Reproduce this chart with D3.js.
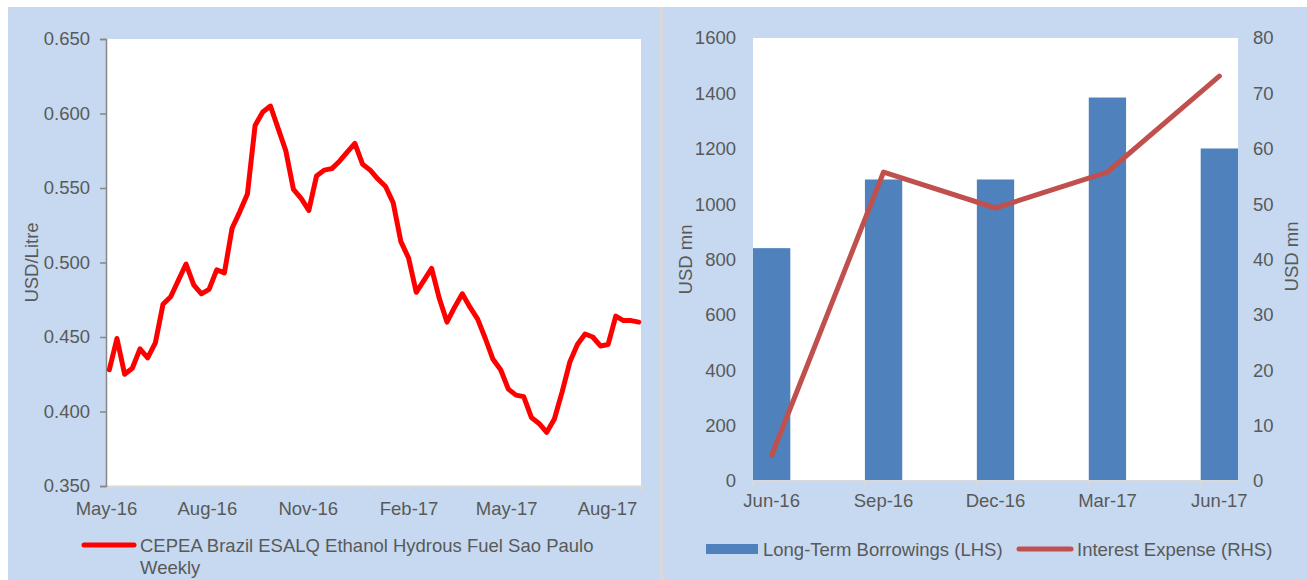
<!DOCTYPE html>
<html>
<head>
<meta charset="utf-8">
<script src="https://cdn.jsdelivr.net/npm/d3@7"></script>
<style>
  html, body { margin: 0; padding: 0; background: #fff; }
  svg { display: block; font-family: "Liberation Sans", Arial, sans-serif; }
  text { font-size: 18.5px; fill: #595959; }
</style>
</head>
<body>
<svg id="chart"></svg>
<script>
// Left chart: weekly ethanol price (USD/Litre)
const weekDates = [
  "2016-05-04","2016-05-11","2016-05-18","2016-05-25",
  "2016-06-01","2016-06-08","2016-06-15","2016-06-22","2016-06-29",
  "2016-07-06","2016-07-13","2016-07-20","2016-07-27",
  "2016-08-03","2016-08-10","2016-08-17","2016-08-24","2016-08-31",
  "2016-09-07","2016-09-14","2016-09-21","2016-09-28",
  "2016-10-05","2016-10-12","2016-10-19","2016-10-26",
  "2016-11-02","2016-11-09","2016-11-16","2016-11-23","2016-11-30",
  "2016-12-07","2016-12-14","2016-12-21","2016-12-28",
  "2017-01-04","2017-01-11","2017-01-18","2017-01-25",
  "2017-02-01","2017-02-08","2017-02-15","2017-02-22",
  "2017-03-01","2017-03-08","2017-03-15","2017-03-22","2017-03-29",
  "2017-04-05","2017-04-12","2017-04-19","2017-04-26",
  "2017-05-03","2017-05-10","2017-05-17","2017-05-24","2017-05-31",
  "2017-06-07","2017-06-14","2017-06-21","2017-06-28",
  "2017-07-05","2017-07-12","2017-07-19","2017-07-26",
  "2017-08-02","2017-08-09","2017-08-16","2017-08-23","2017-08-30"
];
const ethanolPrice = [
  0.428, 0.449, 0.425, 0.429,
  0.442, 0.436, 0.446, 0.472, 0.477,
  0.488, 0.499, 0.485, 0.479,
  0.482, 0.495, 0.493, 0.523, 0.534,
  0.546, 0.592, 0.601, 0.605,
  0.590, 0.575, 0.549, 0.543,
  0.535, 0.558, 0.562, 0.563, 0.568,
  0.574, 0.580, 0.566, 0.562,
  0.556, 0.551, 0.540, 0.514,
  0.503, 0.480, 0.488, 0.496,
  0.476, 0.460, 0.470, 0.479, 0.470,
  0.462, 0.449, 0.435, 0.428,
  0.415, 0.411, 0.410, 0.396, 0.392,
  0.386, 0.395, 0.413, 0.433,
  0.445, 0.452, 0.450, 0.444,
  0.445, 0.464, 0.461, 0.461, 0.460
];
const priceTicks = [0.35, 0.40, 0.45, 0.50, 0.55, 0.60, 0.65];
const priceLabel = "CEPEA Brazil ESALQ Ethanol Hydrous Fuel Sao Paulo";
const priceLabel2 = "Weekly";

// Right chart: quarterly borrowings and interest expense
const months = ["Jun-16","Jul-16","Aug-16","Sep-16","Oct-16","Nov-16","Dec-16",
                "Jan-17","Feb-17","Mar-17","Apr-17","May-17","Jun-17"];
const quarters = ["Jun-16","Sep-16","Dec-16","Mar-17","Jun-17"];
const borrowings = [841, 1089, 1089, 1385, 1201];
const interestExpense = [4.6, 55.8, 49.3, 55.8, 73.1];
const lhsTicks = [0, 200, 400, 600, 800, 1000, 1200, 1400, 1600];
const rhsTicks = [0, 10, 20, 30, 40, 50, 60, 70, 80];

const width = 1307, height = 580;
const svg = d3.select('#chart').attr('width', width).attr('height', height);

// panels
svg.append('rect').attr('width', width).attr('height', height).attr('fill', '#fff');
svg.append('rect').attr('x', 8).attr('y', 7).attr('width', 652).attr('height', 573).attr('fill', '#c6d9f0');
svg.append('rect').attr('x', 660).attr('y', 7).attr('width', 3).attr('height', 573).attr('fill', '#d9d9d9');
svg.append('rect').attr('x', 663).attr('y', 7).attr('width', 644).attr('height', 573).attr('fill', '#c6d9f0');

// ---------- left chart ----------
const L = { left: 106, right: 641, top: 39, bottom: 486 };
const parse = d3.timeParse('%Y-%m-%d');
const priceData = weekDates.map((d, i) => ({ date: parse(d), value: ethanolPrice[i] }));

const xL = d3.scaleTime()
  .domain([new Date(2016, 4, 1), new Date(2017, 8, 1)])
  .range([L.left, L.right]);
const yL = d3.scaleLinear().domain([0.35, 0.65]).range([L.bottom, L.top]);

svg.append('rect').attr('x', L.left).attr('y', L.top)
  .attr('width', L.right - L.left).attr('height', L.bottom - L.top).attr('fill', '#fff');

const fmtMonth = d3.timeFormat('%b-%y');
const gxL = svg.append('g').attr('transform', `translate(0,${L.bottom})`)
  .call(d3.axisBottom(xL)
    .ticks(d3.timeMonth.every(1))
    .tickSize(5)
    .tickPadding(11)
    .tickFormat(d => d.getMonth() % 3 === 1 ? fmtMonth(d) : ''));
gxL.select('.domain').attr('stroke', '#d9d9d9').attr('stroke-width', 2);
gxL.selectAll('.tick line').attr('stroke', '#d9d9d9').attr('stroke-width', 2);
gxL.selectAll('text').attr('font-size', null).attr('font-family', null);

const gyL = svg.append('g').attr('transform', `translate(${L.left},0)`)
  .call(d3.axisLeft(yL).tickValues(priceTicks).tickFormat(d3.format('.3f'))
    .tickSize(6).tickPadding(10));
gyL.select('.domain').attr('stroke', '#868686').attr('stroke-width', 1.5);
gyL.selectAll('.tick line').attr('stroke', '#868686').attr('stroke-width', 1.5);
gyL.selectAll('text').attr('font-size', null).attr('font-family', null);

svg.append('text')
  .attr('transform', `translate(31,${(L.top + L.bottom) / 2}) rotate(-90)`)
  .attr('text-anchor', 'middle').attr('dominant-baseline', 'central')
  .text('USD/Litre');

const priceLine = d3.line().x(d => xL(d.date)).y(d => yL(d.value));
svg.append('path').datum(priceData)
  .attr('d', priceLine)
  .attr('fill', 'none').attr('stroke', '#ff0000').attr('stroke-width', 5)
  .attr('stroke-linejoin', 'round').attr('stroke-linecap', 'round');

// left legend
svg.append('line').attr('x1', 84).attr('x2', 134).attr('y1', 545).attr('y2', 545)
  .attr('stroke', '#ff0000').attr('stroke-width', 5).attr('stroke-linecap', 'round');
svg.append('text').attr('x', 140).attr('y', 545).attr('dominant-baseline', 'central').text(priceLabel);
svg.append('text').attr('x', 140).attr('y', 567).attr('dominant-baseline', 'central').text(priceLabel2);

// ---------- right chart ----------
const R = { left: 753, right: 1238, top: 38, bottom: 481 };
const xR = d3.scaleBand().domain(months).range([R.left, R.right]).padding(0);
const yLhs = d3.scaleLinear().domain([0, 1600]).range([R.bottom, R.top]);
const yRhs = d3.scaleLinear().domain([0, 80]).range([R.bottom, R.top]);

svg.append('rect').attr('x', R.left).attr('y', R.top)
  .attr('width', R.right - R.left).attr('height', R.bottom - R.top).attr('fill', '#fff');

const quarterData = quarters.map((q, i) => ({ q, debt: borrowings[i], interest: interestExpense[i] }));

svg.append('g').selectAll('.bar').data(quarterData).enter().append('rect')
  .attr('class', 'bar')
  .attr('x', d => xR(d.q))
  .attr('width', xR.bandwidth())
  .attr('y', d => yLhs(d.debt))
  .attr('height', d => R.bottom - yLhs(d.debt))
  .attr('fill', '#4f81bd');

// x axis: labels at band centre, ticks at band left edge
const gxR = svg.append('g').attr('transform', `translate(0,${R.bottom})`)
  .call(d3.axisBottom(xR).tickValues(quarters).tickSize(0).tickPadding(13));
gxR.select('.domain').remove();
gxR.selectAll('text').attr('font-size', null).attr('font-family', null);
svg.append('line').attr('x1', R.left).attr('x2', R.right).attr('y1', R.bottom).attr('y2', R.bottom)
  .attr('stroke', '#d9d9d9').attr('stroke-width', 2);
svg.append('g').selectAll('line').data(quarters).enter().append('line')
  .attr('x1', d => xR(d)).attr('x2', d => xR(d))
  .attr('y1', R.bottom).attr('y2', R.bottom + 6)
  .attr('stroke', '#d9d9d9').attr('stroke-width', 2);

const gyLhs = svg.append('g').attr('transform', `translate(${R.left},0)`)
  .call(d3.axisLeft(yLhs).tickValues(lhsTicks).tickFormat(d3.format('d')).tickSize(0).tickPadding(17));
gyLhs.select('.domain').remove();
gyLhs.selectAll('text').attr('font-size', null).attr('font-family', null);

const gyRhs = svg.append('g').attr('transform', `translate(${R.right},0)`)
  .call(d3.axisRight(yRhs).tickValues(rhsTicks).tickFormat(d3.format('d')).tickSize(0).tickPadding(15));
gyRhs.select('.domain').remove();
gyRhs.selectAll('text').attr('font-size', null).attr('font-family', null);

svg.append('text')
  .attr('transform', `translate(685,${(R.top + R.bottom) / 2}) rotate(-90)`)
  .attr('text-anchor', 'middle').attr('dominant-baseline', 'central')
  .text('USD mn');
svg.append('text')
  .attr('transform', `translate(1291,${(R.top + R.bottom) / 2 - 3}) rotate(-90)`)
  .attr('text-anchor', 'middle').attr('dominant-baseline', 'central')
  .text('USD mn');

const interestLine = d3.line()
  .x(d => xR(d.q) + xR.bandwidth() / 2)
  .y(d => yRhs(d.interest));
svg.append('path').datum(quarterData)
  .attr('d', interestLine)
  .attr('fill', 'none').attr('stroke', '#c0504d').attr('stroke-width', 5)
  .attr('stroke-linejoin', 'round').attr('stroke-linecap', 'round');

// right legend
svg.append('rect').attr('x', 706).attr('y', 544).attr('width', 52).attr('height', 10).attr('fill', '#4f81bd');
svg.append('text').attr('x', 763).attr('y', 549).attr('dominant-baseline', 'central').text('Long-Term Borrowings (LHS)');
svg.append('line').attr('x1', 1019).attr('x2', 1071).attr('y1', 549).attr('y2', 549)
  .attr('stroke', '#c0504d').attr('stroke-width', 5).attr('stroke-linecap', 'round');
svg.append('text').attr('x', 1077).attr('y', 549).attr('dominant-baseline', 'central').text('Interest Expense (RHS)');
</script>
</body>
</html>
